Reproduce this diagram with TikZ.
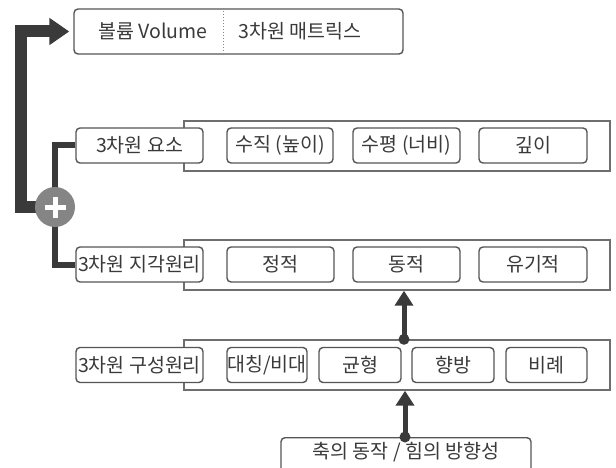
\documentclass[tikz,border=0pt]{standalone}
\usepackage{fontspec}
\setmainfont{Noto Sans CJK KR}
\usetikzlibrary{arrows.meta}
\definecolor{dk}{HTML}{3A3A3A}
\definecolor{bd}{HTML}{555555}
\definecolor{tx}{HTML}{3A3A3A}
\definecolor{pl}{HTML}{858585}
\tikzset{
  lab/.style={draw=bd, line width=1.4pt, rounded corners=4pt, fill=white, text=tx,
    minimum height=35pt, inner sep=0pt, font=\fontsize{19.5}{22}\selectfont},
  outer/.style={draw=bd!85, line width=1.4pt, fill=white, minimum width=426pt,
    minimum height=50pt, inner sep=0pt},
  txt/.style={text=tx, inner sep=0pt, font=\fontsize{19.5}{22}\selectfont},
  bigarr/.style={draw=dk, line width=12pt, miter limit=20,
    -{Triangle[length=20pt,width=26pt]}},
  conn/.style={draw=dk, line width=6pt},
  smallarr/.style={draw=dk, line width=5pt, -{Triangle[length=15pt,width=18pt]}},
  dot/.style={fill=dk},
}
\begin{document}
\begin{tikzpicture}[x=1pt,y=-1pt]
\useasboundingbox (0,0) rectangle (616,468);
\clip (0,0) rectangle (616,468);
% coordinates
\coordinate (dv) at (223,0);
\coordinate (a1) at (404,0);
\coordinate (a2) at (405,0);
% top box
\node[lab, minimum width=329pt, minimum height=45pt] (T) at (238.5,31.5) {};
\node[txt] (t1) at (153,31.5) {볼륨 Volume};
\node[txt] (t2) at (300,31.5) {3차원 매트릭스};
\draw[bd!70, line width=1pt, dotted] (T.north -| dv) -- (T.south -| dv);
% outer row boxes
\node[outer] (O1) at (397,146) {};
\node[outer] (O2) at (397,265) {};
\node[outer] (O3) at (397,365) {};
% row 1
\node[lab, minimum width=127pt] (L1) at (139.5,145.5) {3차원 요소};
\node[lab, minimum width=106pt] (A1) at (280,145.5) {수직 (높이)};
\node[lab, minimum width=107pt] (A2) at (406.5,145.5) {수평 (너비)};
\node[lab, minimum width=108pt] (A3) at (533,145.5) {깊이};
% row 2
\node[lab, minimum width=127pt] (L2) at (139.5,264.5) {3차원 지각원리};
\node[lab, minimum width=107pt] (B1) at (280.5,264.5) {정적};
\node[lab, minimum width=107pt] (B2) at (406.5,264.5) {동적};
\node[lab, minimum width=108pt] (B3) at (533,264.5) {유기적};
% row 3
\node[lab, minimum width=127pt] (L3) at (139.5,365) {3차원 구성원리};
\node[lab, minimum width=80pt] (C1) at (267,365) {대칭/비대};
\node[lab, minimum width=82pt] (C2) at (360,365) {균형};
\node[lab, minimum width=82pt] (C3) at (453,365) {향방};
\node[lab, minimum width=81pt] (C4) at (546.5,365) {비례};
% bottom box
\node[lab, minimum width=250pt, minimum height=50pt, anchor=north] (D) at (406,437) {};
\node[txt] (d1) at (406,452) {축의 동작 / 힘의 방향성};
% plus circle and connectors
\coordinate (P0) at (55,207);
\draw[conn] (L1.west) -| (P0);
\draw[conn] (L2.west) -| (P0);
\draw[bigarr] (P0) -- ++(-34,0) |- ([xshift=-4pt]T.west);
\node[circle, fill=pl, minimum size=40pt, inner sep=0pt] (P) at (P0) {};
\draw[white, line width=5pt] (P.center) ++(-10.5,0) -- ++(21,0);
\draw[white, line width=5pt] (P.center) ++(0,-10.5) -- ++(0,21);
% small arrows
\draw[smallarr] (D.north -| a2) -- (O3.south -| a2);
\fill[dot] (D.north -| a2) circle (5.5pt);
\draw[smallarr] (O3.north -| a1) -- (O2.south -| a1);
\fill[dot] (O3.north -| a1) circle (5.5pt);
\end{tikzpicture}
\end{document}
